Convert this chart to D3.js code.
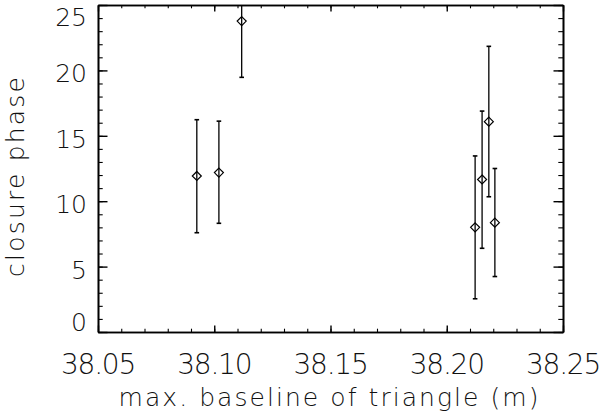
<!DOCTYPE html>
<html>
<head>
<meta charset="utf-8">
<script src="https://cdn.jsdelivr.net/npm/d3@7"></script>
<style>
  body { margin: 0; background: #fff; }
  svg text { font-family: "DejaVu Sans", "Lato", sans-serif; font-weight: 200; fill: #111; }
  .axis path, .axis line { stroke: #000; stroke-width: 1.4px; }
  .minor line { stroke-width: 1.1px; }
</style>
</head>
<body>
<svg id="chart" width="603" height="419"></svg>
<script>
// max. baseline (m), closure phase, and error bar ends
const baseline = [38.0925, 38.1020, 38.1118, 38.2122, 38.2152, 38.2181, 38.2207];
const phase = [11.93, 12.19, 23.77, 8.00, 11.66, 16.08, 8.36];
const phaseLow = [7.59, 8.31, 19.47, 2.54, 6.40, 10.34, 4.24];
const phaseHigh = [16.23, 16.12, 28.1, 13.46, 16.89, 21.84, 12.50];

const xTicks = [38.05, 38.10, 38.15, 38.20, 38.25];
const yTicks = [0, 5, 10, 15, 20, 25];

const margin = { top: 5, right: 40, bottom: 87, left: 98 },
  width = 603 - margin.left - margin.right,
  height = 419 - margin.top - margin.bottom;

const svg = d3
  .select("#chart")
  .append("g")
  .attr("transform", `translate(${margin.left},${margin.top})`);

const x = d3.scaleLinear().domain([38.05, 38.25]).range([0, width]);
const y = d3.scaleLinear().domain([0, 25]).range([height, 0]);

const xMinor = d3.range(38.05, 38.2501, 0.01);
const yMinor = d3.range(0, 25.01, 1);

svg.append("defs").append("clipPath").attr("id", "clip")
  .append("rect").attr("width", width).attr("height", height);

// error bars and diamonds
const pts = baseline.map((b, i) => ({ b, p: phase[i], lo: phaseLow[i], hi: phaseHigh[i] }));
const marks = svg.append("g").attr("clip-path", "url(#clip)");
const cap = 2.3;

marks.selectAll(".bar").data(pts).enter().append("line")
  .attr("x1", (d) => x(d.b)).attr("x2", (d) => x(d.b))
  .attr("y1", (d) => y(d.lo)).attr("y2", (d) => y(d.hi))
  .style("stroke", "#000").style("stroke-width", "1.3px");

marks.selectAll(".capHi").data(pts).enter().append("line")
  .attr("x1", (d) => x(d.b) - cap).attr("x2", (d) => x(d.b) + cap)
  .attr("y1", (d) => y(d.hi)).attr("y2", (d) => y(d.hi))
  .style("stroke", "#000").style("stroke-width", "1.6px");

marks.selectAll(".capLo").data(pts).enter().append("line")
  .attr("x1", (d) => x(d.b) - cap).attr("x2", (d) => x(d.b) + cap)
  .attr("y1", (d) => y(d.lo)).attr("y2", (d) => y(d.lo))
  .style("stroke", "#000").style("stroke-width", "1.6px");

const r = 4.5;
marks.selectAll(".dot").data(pts).enter().append("path")
  .attr("d", (d) => {
    const cx = x(d.b), cy = y(d.p);
    return `M${cx},${cy - r}L${cx + r},${cy}L${cx},${cy + r}L${cx - r},${cy}Z`;
  })
  .style("fill", "none").style("stroke", "#000").style("stroke-width", "1.2px");

// axes: major ticks
svg.append("g").attr("class", "axis").attr("transform", `translate(0,${height})`)
  .call(d3.axisBottom(x).tickValues(xTicks).tickSizeInner(-6.5).tickSizeOuter(0).tickFormat(""));
svg.append("g").attr("class", "axis")
  .call(d3.axisTop(x).tickValues(xTicks).tickSizeInner(-6.5).tickSizeOuter(0).tickFormat(""));
svg.append("g").attr("class", "axis")
  .call(d3.axisLeft(y).tickValues(yTicks).tickSizeInner(-9.5).tickSizeOuter(0).tickFormat(""));
svg.append("g").attr("class", "axis").attr("transform", `translate(${width},0)`)
  .call(d3.axisRight(y).tickValues(yTicks).tickSizeInner(-9.5).tickSizeOuter(0).tickFormat(""));

// minor ticks
svg.append("g").attr("class", "axis minor").attr("transform", `translate(0,${height})`)
  .call(d3.axisBottom(x).tickValues(xMinor).tickSizeInner(-3.3).tickSizeOuter(0).tickFormat(""));
svg.append("g").attr("class", "axis minor")
  .call(d3.axisTop(x).tickValues(xMinor).tickSizeInner(-3.3).tickSizeOuter(0).tickFormat(""));
svg.append("g").attr("class", "axis minor")
  .call(d3.axisLeft(y).tickValues(yMinor).tickSizeInner(-4.7).tickSizeOuter(0).tickFormat(""));
svg.append("g").attr("class", "axis minor").attr("transform", `translate(${width},0)`)
  .call(d3.axisRight(y).tickValues(yMinor).tickSizeInner(-4.7).tickSizeOuter(0).tickFormat(""));

svg.selectAll(".axis .domain").style("stroke-width", "1.6px");

// tick labels
svg.selectAll(".xlab").data(xTicks).enter().append("text")
  .attr("x", (d) => x(d))
  .attr("y", height + 42)
  .style("text-anchor", "middle")
  .style("font-size", "28px")
  .style("letter-spacing", "-1.2px")
  .text((d) => d.toFixed(2));

svg.selectAll(".ylab").data(yTicks).enter().append("text")
  .attr("x", -11)
  .attr("y", (d) => Math.min(Math.max(y(d) + 3, 12), height - 10))
  .attr("dy", "0.36em")
  .style("text-anchor", "end")
  .style("font-size", "25px")
  .text((d) => d);

// axis titles
svg.append("text")
  .attr("x", width / 2 - 2)
  .attr("y", height + 74)
  .style("text-anchor", "middle")
  .style("font-size", "25px")
  .attr("textLength", 420)
  .attr("lengthAdjust", "spacing")
  .text("max. baseline of triangle (m)");

svg.append("text")
  .attr("transform", "rotate(-90)")
  .attr("x", -172)
  .attr("y", -74)
  .style("text-anchor", "middle")
  .style("font-size", "25px")
  .attr("textLength", 200)
  .attr("lengthAdjust", "spacing")
  .text("closure phase");
</script>
</body>
</html>
